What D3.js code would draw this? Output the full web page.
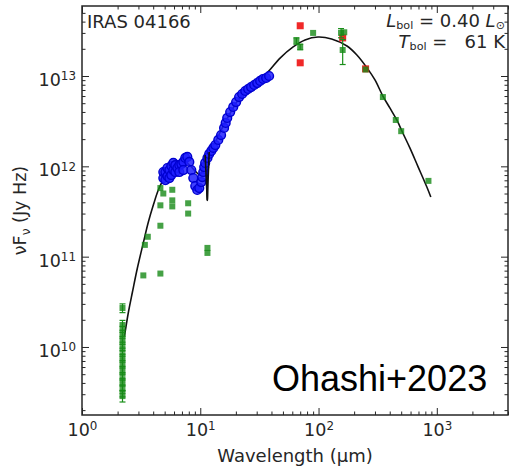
<!DOCTYPE html>
<html>
<head>
<meta charset="utf-8">
<script src="https://cdn.jsdelivr.net/npm/d3@7"></script>
<style>
  html, body { margin: 0; padding: 0; background: #fff; }
  svg { display: block; }
</style>
</head>
<body>
<svg id="chart" width="518" height="476"></svg>
<script>
// ---- SED of IRAS 04166: wavelength in µm, νFν in Jy Hz ----

// Best-fit model SED (black curve)
const modelWave = [2.28, 2.47, 2.67, 2.94, 3.30, 3.64, 4.01, 4.42, 4.87, 5.58, 6.52, 7.62, 8.9, 10.0,
  11.0, 11.46, 11.9, 13.4, 16.3, 21.8, 29.1, 36.7, 47.3, 61, 76.9, 99, 129, 174, 211, 257, 300,
  350, 401, 459, 516, 592, 692, 824, 890];
const modelFlux = [1.29e10, 2.44e10, 4.06e10, 7.48e10, 1.42e11, 2.42e11, 3.73e11, 5.47e11, 7.05e11,
  8.65e11, 9.6e11, 1.09e12, 9.1e11, 8.0e11, 1.33e12, 4.2e11, 1.44e12, 1.86e12, 3.1e12, 5.85e12,
  8.36e12, 1.08e13, 1.58e13, 2.1e13, 2.51e13, 2.7e13, 2.57e13, 2.15e13, 1.71e13, 1.23e13, 9.04e12,
  6.0e12, 4.43e12, 3.26e12, 2.34e12, 1.6e12, 1.0e12, 5.9e11, 4.57e11];

// Spitzer/IRS spectrum (blue)
const specWave = [4.87, 4.87, 5.07, 5.07, 5.27, 5.27, 5.48, 5.48, 5.69, 5.69, 5.92, 5.92, 6.15, 6.15,
  6.40, 6.65, 6.65, 6.92, 7.19, 7.19, 7.47, 7.77, 8.08, 8.40, 8.73, 9.07, 9.43, 9.81, 10.2, 10.4,
  10.6, 10.8, 11.0, 11.5, 11.9, 12.4, 12.9, 13.4, 14.2, 15.0, 15.9, 16.4, 16.9, 17.9, 19.0, 20.1,
  21.3, 22.6, 24.0, 25.4, 26.9, 28.6, 30.3, 32.1, 34.0, 36.1, 38.2];
const specFlux = [7.42e11, 8.65e11, 8.65e11, 7.05e11, 9.57e11, 7.8e11, 9.1e11, 7.42e11, 1.01e12, 8.0e11,
  9.1e11, 1.09e12, 8.65e11, 1.03e12, 9.57e11, 1.03e12, 8.65e11, 1.06e12, 1.12e12, 9.1e11, 1.24e12,
  1.27e12, 1.12e12, 9.1e11, 7.42e11, 6.05e11, 5.47e11, 5.75e11, 6.7e11, 7.6e11, 8.65e11, 9.8e11,
  1.09e12, 1.24e12, 1.37e12, 1.48e12, 1.60e12, 1.72e12, 1.96e12, 2.22e12, 2.66e12, 3.02e12, 3.43e12,
  3.99e12, 4.54e12, 5.15e12, 5.85e12, 6.32e12, 6.82e12, 7.18e12, 7.55e12, 7.95e12, 8.36e12, 8.81e12,
  9.27e12, 9.5e12, 1.0e13];

// Photometry (green) with 1σ errors
const photWave = [2.2, 2.2, 2.2, 2.2, 2.2, 2.2, 2.2, 2.2, 2.2, 2.2, 2.2, 2.2, 2.2, 2.2,
  4.6, 4.87, 5.8, 4.6, 5.8, 5.8, 7.9, 7.9, 4.6, 3.6, 3.4, 11.5, 11.5, 3.3, 4.6,
  65, 70, 90, 155, 165, 160, 250, 350, 450, 500, 850];
const photFlux = [2.70e10, 1.75e10, 1.50e10, 1.29e10, 1.11e10, 9.5e9, 8.1e9, 7.0e9, 6.0e9, 5.15e9,
  4.4e9, 3.8e9, 3.25e9, 2.86e9,
  5.75e11, 5.0e11, 5.5e11, 3.7e11, 4.2e11, 3.6e11, 3.9e11, 3.0e11, 2.2e11, 1.66e11, 1.35e11,
  1.25e11, 1.1e11, 6.2e10, 6.5e10,
  2.45e13, 2.1e13, 3.0e13, 3.0e13, 3.05e13, 1.94e13, 1.18e13, 5.85e12, 3.26e12, 2.45e12, 6.9e11];
const photErr = [3e9, 2.2e9, 1.9e9, 1.6e9, 1.4e9, 1.2e9, 1.0e9, 0.9e9, 0.8e9, 0.7e9,
  0.6e9, 0.5e9, 0.45e9, 0.4e9,
  0, 0, 0, 0, 0, 0, 0, 0, 0, 0, 0, 0, 0, 0, 0,
  0.2e13, 0.15e13, 0, 0.35e13, 0, 0.6e13, 0, 0, 0, 0, 0];

// Additional far-IR photometry (red)
const redWave = [70, 70, 160, 250];
const redFlux = [3.6e13, 1.4e13, 2.64e13, 1.2e13];

// Axis decades
const xTickExps = [0, 1, 2, 3];
const yTickExps = [10, 11, 12, 13];

// ---- layout ----
const svg = d3.select("#chart");
const plot = { left: 82, right: 508, top: 6, bottom: 415 };
const ink = "#262626";
const font = "DejaVu Sans, sans-serif";

const x = d3.scaleLog().domain([1, 4000]).range([plot.left, plot.right]);
const y = d3.scaleLog().domain([Math.pow(10, 9.247), Math.pow(10, 13.775)]).range([plot.bottom, plot.top]);

function minorTicks(scale) {
  const [a, b] = scale.domain();
  const out = [];
  for (let e = Math.floor(Math.log10(a)); e <= Math.ceil(Math.log10(b)); e++) {
    for (let m = 2; m <= 9; m++) {
      const v = m * Math.pow(10, e);
      if (v >= a && v <= b) out.push(v);
    }
  }
  return out;
}

const clipId = "plotclip";
svg.append("clipPath").attr("id", clipId).append("rect")
  .attr("x", plot.left).attr("y", plot.top)
  .attr("width", plot.right - plot.left).attr("height", plot.bottom - plot.top);

const marks = svg.append("g").attr("clip-path", `url(#${clipId})`);

// Model curve (drawn first so the spectrum covers it where they overlap)
const model = modelWave.map((w, i) => ({ w, f: modelFlux[i] }));
const modelLine = d3.line().x(d => x(d.w)).y(d => y(d.f)).curve(d3.curveCatmullRom.alpha(0.5));
marks.append("path").datum(model)
  .attr("fill", "none").attr("stroke", "#111").attr("stroke-width", 1.6)
  .attr("d", modelLine);

// IRS spectrum
const spec = specWave.map((w, i) => ({ w, f: specFlux[i] }));
marks.append("g").selectAll("circle").data(spec).join("circle")
  .attr("cx", d => x(d.w)).attr("cy", d => y(d.f)).attr("r", 4.4)
  .attr("fill", "#2020ff").attr("fill-opacity", 0.85)
  .attr("stroke", "#0000d0").attr("stroke-width", 1.4);

// short stretch of the model that shows on top of the spectrum near 11 µm
marks.append("path").datum(model.filter(d => d.w >= 10.6 && d.w <= 11.9))
  .attr("fill", "none").attr("stroke", "#111").attr("stroke-width", 1.6)
  .attr("d", d3.line().x(d => x(d.w)).y(d => y(d.f)));

// Red photometry
const red = redWave.map((w, i) => ({ w, f: redFlux[i] }));
marks.append("g").selectAll("rect").data(red).join("rect")
  .attr("x", d => x(d.w) - 3.5).attr("y", d => y(d.f) - 3.5)
  .attr("width", 7).attr("height", 7)
  .attr("fill", "#ee1111").attr("fill-opacity", 0.9);

// Green photometry with error bars
const phot = photWave.map((w, i) => ({ w, f: photFlux[i], e: photErr[i] }));
const eb = marks.append("g").attr("stroke", "#1a8f1a").attr("stroke-width", 1.2);
phot.filter(d => d.e > 0).forEach(d => {
  const cx = x(d.w), y0 = y(d.f - d.e), y1 = y(d.f + d.e);
  eb.append("line").attr("x1", cx).attr("x2", cx).attr("y1", y0).attr("y2", y1);
  eb.append("line").attr("x1", cx - 3).attr("x2", cx + 3).attr("y1", y0).attr("y2", y0);
  eb.append("line").attr("x1", cx - 3).attr("x2", cx + 3).attr("y1", y1).attr("y2", y1);
});
marks.append("g").selectAll("rect").data(phot).join("rect")
  .attr("x", d => x(d.w) - 3).attr("y", d => y(d.f) - 3)
  .attr("width", 6).attr("height", 6)
  .attr("fill", "#178a17").attr("fill-opacity", 0.8);

// ---- axes (inward ticks on all four sides) ----
const majorX = xTickExps.map(e => Math.pow(10, e));
const majorY = yTickExps.map(e => Math.pow(10, e));
const minorX = minorTicks(x), minorY = minorTicks(y);

function styleAxis(g) {
  g.select(".domain").remove();
  g.selectAll(".tick line").attr("stroke", ink).attr("stroke-width", 1);
}

function supLabel(sel, exps) {
  sel.selectAll(".tick text").each(function (d, i) {
    const t = d3.select(this);
    t.text(null);
    t.append("tspan").text("10");
    t.append("tspan").attr("dy", "-0.5em").attr("font-size", "0.68em").text(exps[i]);
  });
}

// bottom
svg.append("g").attr("transform", `translate(0,${plot.bottom})`)
  .call(d3.axisBottom(x).tickValues(minorX).tickSize(-3.5).tickFormat(""))
  .call(styleAxis);
const xAxisG = svg.append("g").attr("transform", `translate(0,${plot.bottom})`)
  .call(d3.axisBottom(x).tickValues(majorX).tickSize(-7).tickPadding(9))
  .call(styleAxis);
xAxisG.selectAll(".tick text").attr("font-family", font).attr("font-size", 17.5).attr("fill", ink);
supLabel(xAxisG, xTickExps);

// top
svg.append("g").attr("transform", `translate(0,${plot.top})`)
  .call(d3.axisTop(x).tickValues(minorX).tickSize(-3.5).tickFormat(""))
  .call(styleAxis);
svg.append("g").attr("transform", `translate(0,${plot.top})`)
  .call(d3.axisTop(x).tickValues(majorX).tickSize(-7).tickFormat(""))
  .call(styleAxis);

// left
svg.append("g").attr("transform", `translate(${plot.left},0)`)
  .call(d3.axisLeft(y).tickValues(minorY).tickSize(-3.5).tickFormat(""))
  .call(styleAxis);
const yAxisG = svg.append("g").attr("transform", `translate(${plot.left},0)`)
  .call(d3.axisLeft(y).tickValues(majorY).tickSize(-7).tickPadding(6))
  .call(styleAxis);
yAxisG.selectAll(".tick text").attr("font-family", font).attr("font-size", 17.5).attr("fill", ink)
  .attr("dy", "0.55em");
supLabel(yAxisG, yTickExps);

// right
svg.append("g").attr("transform", `translate(${plot.right},0)`)
  .call(d3.axisRight(y).tickValues(minorY).tickSize(-3.5).tickFormat(""))
  .call(styleAxis);
svg.append("g").attr("transform", `translate(${plot.right},0)`)
  .call(d3.axisRight(y).tickValues(majorY).tickSize(-7).tickFormat(""))
  .call(styleAxis);

// frame
svg.append("rect")
  .attr("x", plot.left).attr("y", plot.top)
  .attr("width", plot.right - plot.left).attr("height", plot.bottom - plot.top)
  .attr("fill", "none").attr("stroke", ink).attr("stroke-width", 1.5);

// ---- labels ----
svg.append("text")
  .attr("x", (plot.left + plot.right) / 2).attr("y", 462)
  .attr("text-anchor", "middle").attr("font-family", font).attr("font-size", 18).attr("fill", ink)
  .text("Wavelength (μm)");

const yl = svg.append("text")
  .attr("transform", `translate(26,${(plot.top + plot.bottom) / 2}) rotate(-90)`)
  .attr("text-anchor", "middle").attr("font-family", font).attr("font-size", 17.5).attr("fill", ink);
yl.append("tspan").text("νF");
yl.append("tspan").attr("dy", "0.3em").attr("font-size", "0.7em").text("ν");
yl.append("tspan").attr("dy", "-0.21em").text(" (Jy Hz)");

svg.append("text")
  .attr("x", 87).attr("y", 28)
  .attr("font-family", font).attr("font-size", 18).attr("fill", ink)
  .text("IRAS 04166");

const lbol = svg.append("text")
  .attr("x", 505).attr("y", 27).attr("text-anchor", "end")
  .attr("font-family", font).attr("font-size", 18).attr("fill", ink)
  .style("white-space", "pre");
lbol.append("tspan").attr("font-style", "italic").text("L");
lbol.append("tspan").attr("dy", "0.2em").attr("font-size", "0.62em").text("bol");
lbol.append("tspan").attr("dy", "-0.124em").text(" = 0.40 ");
lbol.append("tspan").attr("font-style", "italic").text("L");
lbol.append("tspan").attr("dy", "0.2em").attr("font-size", "0.62em").text("⊙");

const tbol = svg.append("text")
  .attr("x", 505).attr("y", 48).attr("text-anchor", "end")
  .attr("font-family", font).attr("font-size", 18).attr("fill", ink)
  .style("white-space", "pre");
tbol.append("tspan").attr("font-style", "italic").text("T");
tbol.append("tspan").attr("dy", "0.2em").attr("font-size", "0.62em").text("bol");
tbol.append("tspan").attr("dy", "-0.124em").text(" =   61 K");

svg.append("text")
  .attr("x", 272).attr("y", 391)
  .attr("font-family", "Liberation Sans, Arial, sans-serif").attr("font-size", 36).attr("fill", "#000")
  .text("Ohashi+2023");
</script>
</body>
</html>
